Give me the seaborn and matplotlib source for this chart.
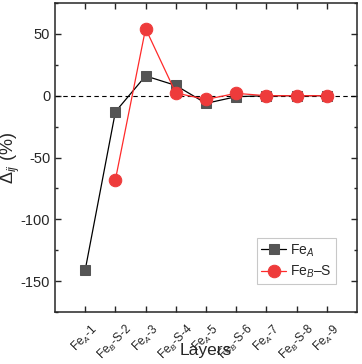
import numpy as np
import pandas as pd
import matplotlib
matplotlib.use("Agg")
import matplotlib.pyplot as plt
import seaborn as sns
from matplotlib.ticker import MultipleLocator

layers = list(range(1, 10))
tick_labels = ["Fe$_A$-1", "Fe$_B$-S-2", "Fe$_A$-3", "Fe$_B$-S-4", "Fe$_A$-5",
               "Fe$_B$-S-6", "Fe$_A$-7", "Fe$_B$-S-8", "Fe$_A$-9"]
fea_x = [1, 2, 3, 4, 5, 6, 7, 8, 9]
fea_y = [-141, -13, 16, 8.3, -6.2, -0.8, 0, 0, 0]
feb_x = [2, 3, 4, 5, 6, 7, 8, 9]
feb_y = [-68, 54.3, 2.2, -3, 1.9, 0, 0, 0]

sns.set_theme(style="ticks")
plt.rcParams['font.family'] = ['Liberation Sans', 'DejaVu Sans']
plt.rcParams['mathtext.fontset'] = 'custom'
plt.rcParams['mathtext.rm'] = 'Liberation Sans'
plt.rcParams['mathtext.it'] = 'Liberation Sans:italic'
plt.rcParams['axes.unicode_minus'] = False

fig = plt.figure(figsize=(3.62, 3.64), dpi=100)
ax = fig.add_axes([55/362, 1-312/364, (357-55)/362, (312-3)/364])

dfa = pd.DataFrame({"x": fea_x, "y": fea_y})
dfb = pd.DataFrame({"x": feb_x, "y": feb_y})
ax.axhline(0, color="black", ls=(0, (4, 3)), lw=0.8, zorder=1)
sns.lineplot(data=dfa, x="x", y="y", ax=ax, color="black", lw=0.9,
             marker="s", markersize=7, markerfacecolor="#555555",
             markeredgecolor="#555555", label="Fe$_A$", zorder=3)
sns.lineplot(data=dfb, x="x", y="y", ax=ax, color="#ff2a2a", lw=0.9,
             marker="o", markersize=9, markerfacecolor="#ee3b3b",
             markeredgecolor="#ee3b3b", label="Fe$_B$–S", zorder=4)

ax.set_xlim(0, 10)
ax.set_ylim(-175, 75)
ax.set_xticks(layers)
ax.set_xticklabels(tick_labels, rotation=45, ha="center", va="top", fontsize=8.5)
ax.yaxis.set_major_locator(MultipleLocator(50))
ax.yaxis.set_minor_locator(MultipleLocator(25))
ax.tick_params(axis="both", which="both", direction="in", top=True, right=True)
ax.tick_params(axis="both", which="major", length=4, width=1)
ax.tick_params(axis="x", which="major", pad=7)
ax.tick_params(axis="y", which="minor", length=2.5, width=1)
ax.tick_params(axis="y", labelsize=10.5)
for s in ax.spines.values():
    s.set_linewidth(1.1)
ax.set_xlabel("Layers", fontsize=12.5)
ax.xaxis.set_label_coords(0.5, -0.1)
ax.set_ylabel(r"$\mathit{\Delta}_{ij}$ (%)", fontsize=13)
ax.yaxis.set_label_coords(-0.108, 0.5)

leg = ax.legend(loc="upper left", bbox_to_anchor=(0.669, 0.239), borderaxespad=0,
                fontsize=10, frameon=True, fancybox=False, edgecolor="#bbbbbb",
                handlelength=1.8, handletextpad=0.3, borderpad=0.3,
                labelspacing=0.35)
leg.get_frame().set_linewidth(0.8)

fig.savefig("out.png", dpi=100)
